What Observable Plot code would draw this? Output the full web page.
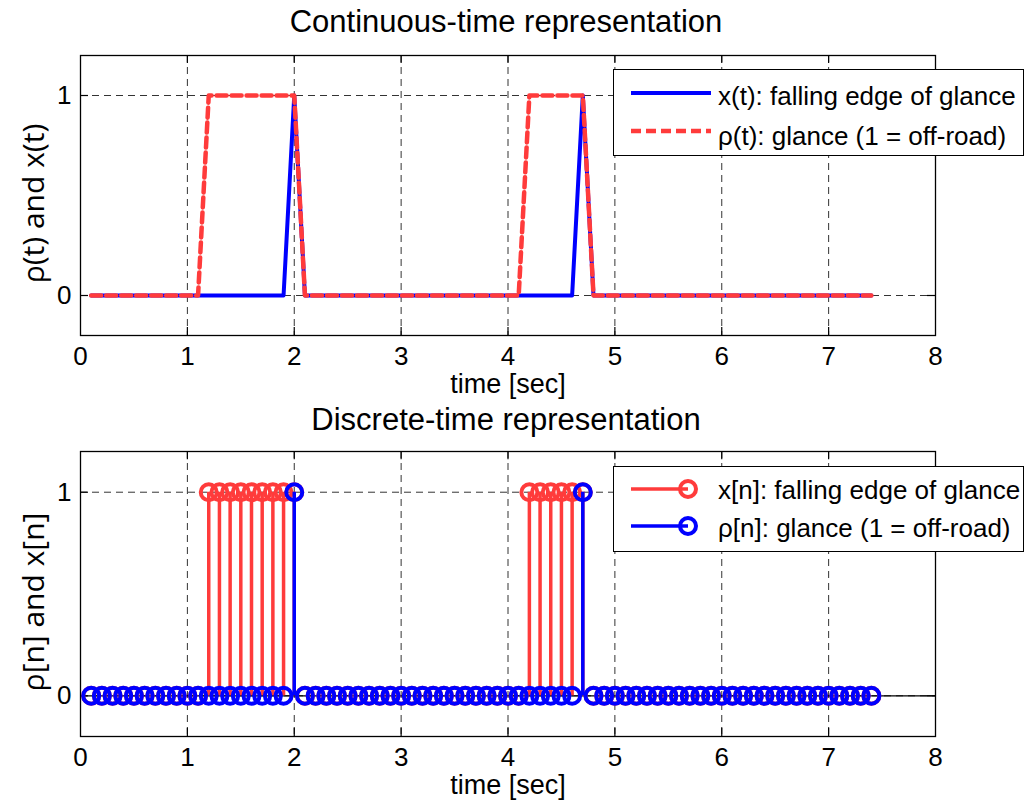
<!DOCTYPE html>
<html>
<head>
<meta charset="utf-8">
<script src="https://cdn.jsdelivr.net/npm/d3@7"></script>
<script src="https://cdn.jsdelivr.net/npm/@observablehq/plot@0.6"></script>
<style>
  html, body { margin: 0; padding: 0; background: #fff; }
  #wrap { position: relative; width: 1026px; height: 807px; overflow: hidden; font-family: "Liberation Sans", Arial, sans-serif; color: #000; }
  .title { position: absolute; left: 0; width: 1012px; text-align: center; font-size: 31px; line-height: 1; }
  .plot { position: absolute; left: 0; }
  .legend { position: absolute; left: 613px; width: 411px; background: #fff; border: 1.3px solid #000; box-sizing: border-box; }
  .legend svg { position: absolute; left: 0; top: 0; }
  .legend .lab { position: absolute; left: 104px; font-size: 26px; line-height: 1; white-space: nowrap; transform: translateY(-50%); }
</style>
</head>
<body>
<div id="wrap">
  <div class="title" style="top:6px">Continuous-time representation</div>
  <div class="title" style="top:404px">Discrete-time representation</div>
  <div id="top" class="plot" style="top:0px"></div>
  <div id="bot" class="plot" style="top:400px"></div>
  <div class="legend" style="top:69px;height:87px">
    <svg width="411" height="87">
      <line x1="17" x2="97" y1="23" y2="23" stroke="#0000ff" stroke-width="4"/>
      <line x1="17" x2="97" y1="61" y2="61" stroke="#ff3b3b" stroke-width="4.5" stroke-dasharray="10,5"/>
    </svg>
    <div class="lab" style="top:26px">x(t): falling edge of glance</div>
    <div class="lab" style="top:66px">ρ(t): glance (1 = off-road)</div>
  </div>
  <div class="legend" style="top:466px;height:86px">
    <svg width="411" height="86">
      <line x1="17" x2="74" y1="22" y2="22" stroke="#ff3b3b" stroke-width="3.5"/>
      <circle cx="74" cy="22" r="8" fill="none" stroke="#ff3b3b" stroke-width="4"/>
      <line x1="17" x2="74" y1="59" y2="59" stroke="#0000ff" stroke-width="3.5"/>
      <circle cx="74" cy="59" r="8" fill="none" stroke="#0000ff" stroke-width="4"/>
    </svg>
    <div class="lab" style="top:23px">x[n]: falling edge of glance</div>
    <div class="lab" style="top:61px">ρ[n]: glance (1 = off-road)</div>
  </div>
</div>
<script>
// ---- data ----
const t = [
  0.1,0.2,0.3,0.4,0.5,0.6,0.7,0.8,0.9,1.0,
  1.1,1.2,1.3,1.4,1.5,1.6,1.7,1.8,1.9,2.0,
  2.1,2.2,2.3,2.4,2.5,2.6,2.7,2.8,2.9,3.0,
  3.1,3.2,3.3,3.4,3.5,3.6,3.7,3.8,3.9,4.0,
  4.1,4.2,4.3,4.4,4.5,4.6,4.7,4.8,4.9,5.0,
  5.1,5.2,5.3,5.4,5.5,5.6,5.7,5.8,5.9,6.0,
  6.1,6.2,6.3,6.4,6.5,6.6,6.7,6.8,6.9,7.0,
  7.1,7.2,7.3,7.4
];
const rho = [
  0,0,0,0,0,0,0,0,0,0,
  0,1,1,1,1,1,1,1,1,1,
  0,0,0,0,0,0,0,0,0,0,
  0,0,0,0,0,0,0,0,0,0,
  0,1,1,1,1,1,1,0,0,0,
  0,0,0,0,0,0,0,0,0,0,
  0,0,0,0,0,0,0,0,0,0,
  0,0,0,0
];
const xs = [
  0,0,0,0,0,0,0,0,0,0,
  0,0,0,0,0,0,0,0,0,1,
  0,0,0,0,0,0,0,0,0,0,
  0,0,0,0,0,0,0,0,0,0,
  0,0,0,0,0,0,1,0,0,0,
  0,0,0,0,0,0,0,0,0,0,
  0,0,0,0,0,0,0,0,0,0,
  0,0,0,0
];
const xTicks = [0,1,2,3,4,5,6,7,8];
const yTicks = [0,1];
const xGrid = [1,2,3,4,5,6,7];

const RED = "#ff3b3b", BLUE = "#0000ff";
const rows = t.map((tt, i) => ({t: tt, rho: rho[i], x: xs[i]}));

function common(ylabel) {
  return [
    Plot.ruleX(xGrid, {stroke: "#333", strokeWidth: 1, strokeDasharray: "7,5"}),
    Plot.ruleY(yTicks, {stroke: "#333", strokeWidth: 1, strokeDasharray: "7,5"}),
    // inward ticks (bottom, top, left, right)
    Plot.ruleX(xGrid, {y1: -0.2, y2: -0.16, stroke: "#000", strokeWidth: 1.2}),
    Plot.ruleX(xGrid, {y1: 1.2, y2: 1.16, stroke: "#000", strokeWidth: 1.2}),
    Plot.ruleY(yTicks, {x1: 0, x2: 0.075, stroke: "#000", strokeWidth: 1.2}),
    Plot.ruleY(yTicks, {x1: 8, x2: 7.925, stroke: "#000", strokeWidth: 1.2}),
    Plot.axisX({ticks: xTicks, tickSize: 0, tickPadding: 11, fontSize: 26, label: null, tickFormat: d => String(d)}),
    Plot.axisX({ticks: [], tickSize: 0, fontSize: 27, label: "time [sec]",
      labelAnchor: "center", labelArrow: "none", labelOffset: 57}),
    Plot.axisY({ticks: yTicks, tickSize: 0, tickPadding: 9, fontSize: 26, label: null, tickFormat: d => String(d)}),
    Plot.text([ylabel], {frameAnchor: "left", dx: -46, dy: 8, rotate: -90, textAnchor: "middle",
      lineAnchor: "middle", fontSize: 30, fontFamily: "Open Sans", fill: "#000"})
  ];
}

const topPlot = Plot.plot({
  width: 1026, height: 400,
  marginTop: 55, marginBottom: 65, marginLeft: 80, marginRight: 91,
  style: {fontFamily: "Liberation Sans, Arial, sans-serif", color: "#000", background: "transparent"},
  x: {domain: [0, 8]},
  y: {domain: [-0.2, 1.2]},
  marks: [
    ...common("ρ(t) and x(t)"),
    Plot.line(rows, {x: "t", y: "x", stroke: BLUE, strokeWidth: 4}),
    Plot.line(rows, {x: "t", y: "rho", stroke: RED, strokeWidth: 4.5, strokeDasharray: "10,5"}),
    Plot.frame({stroke: "#000", strokeWidth: 1.3})
  ]
});
document.getElementById("top").appendChild(topPlot);

const botPlot = Plot.plot({
  width: 1026, height: 407,
  marginTop: 51, marginBottom: 71, marginLeft: 80, marginRight: 91,
  style: {fontFamily: "Liberation Sans, Arial, sans-serif", color: "#000", background: "transparent"},
  x: {domain: [0, 8]},
  y: {domain: [-0.2, 1.2]},
  marks: [
    ...common("ρ[n] and x[n]"),
    Plot.ruleY([0], {stroke: "#000", strokeWidth: 1.2}),
    Plot.ruleX(rows, {x: "t", y1: 0, y2: "rho", stroke: RED, strokeWidth: 3.5}),
    Plot.dot(rows, {x: "t", y: "rho", r: 8, stroke: RED, strokeWidth: 4, fill: "none"}),
    Plot.ruleX(rows, {x: "t", y1: 0, y2: "x", stroke: BLUE, strokeWidth: 3.5}),
    Plot.dot(rows, {x: "t", y: "x", r: 8, stroke: BLUE, strokeWidth: 4, fill: "none"}),
    Plot.frame({stroke: "#000", strokeWidth: 1.3})
  ]
});
document.getElementById("bot").appendChild(botPlot);
</script>
</body>
</html>
